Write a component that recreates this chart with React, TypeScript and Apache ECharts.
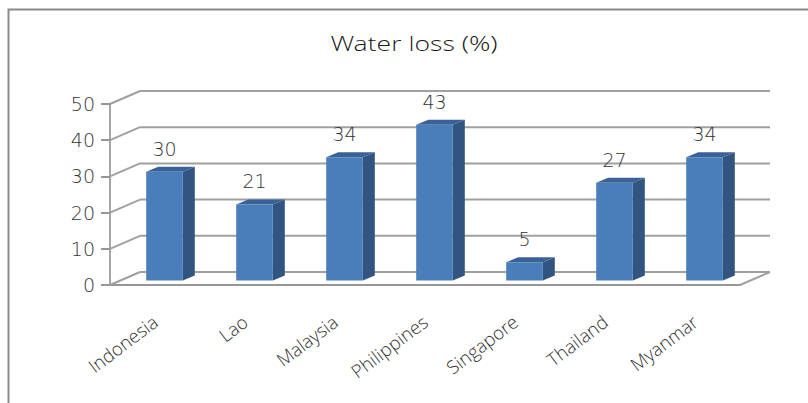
import React, { useEffect, useRef } from "react";
import * as echarts from "echarts";

const categories = ["Indonesia", "Lao", "Malaysia", "Philippines", "Singapore", "Thailand", "Myanmar"];
const waterLoss = [30, 21, 34, 43, 5, 27, 34];
const yTicks = [0, 10, 20, 30, 40, 50];
const titleText = "Water loss (%)";

const FONT = "'Open Sans Light', 'Open Sans', 'Noto Sans', sans-serif";
const DIGITS = "'DejaVu Sans Light', 'DejaVu Sans', sans-serif";
const WALL = { dx: 30, dy: -13 };
const FRONT = { dx: 9.5, dy: -4.6 };
const DEPTH = { dx: 12, dy: -5 };
const BAR_W = 36.6;
const GRID = "#a0a0a0";

export default function App() {
  const ref = useRef<HTMLDivElement>(null);
  useEffect(() => {
    const chart = echarts.init(ref.current!, undefined, { renderer: "svg" });
    chart.setOption({
      animation: false,
      backgroundColor: "#fff",
      grid: { left: 110, right: 68, top: 104, bottom: 118 },
      xAxis: {
        type: "category",
        data: categories,
        axisLine: { lineStyle: { color: "#969696", width: 2 } },
        axisTick: { show: false },
        axisLabel: {
          interval: 0,
          rotate: 37,
          margin: 34,
          fontFamily: FONT,
          fontWeight: 300,
          fontSize: 18.5,
          color: "#333333",
        },
      },
      yAxis: {
        type: "value",
        min: 0,
        max: 50,
        interval: 10,
        axisLine: { show: true, lineStyle: { color: "#a6a6a6", width: 2 } },
        axisTick: { show: true, length: 9, lineStyle: { color: "#969696", width: 2 } },
        splitLine: { show: false },
        axisLabel: { margin: 15, fontFamily: DIGITS, fontSize: 19, color: "#333333" },
      },
      graphic: [
        { type: "rect", shape: { x: 8.5, y: 9.5, width: 830, height: 420 }, style: { fill: "none", stroke: "#8a8a8a", lineWidth: 2 }, silent: true, z: 0 },
        {
          type: "text",
          x: 414,
          y: 43,
          scaleX: 1.33,
          silent: true,
          style: {
            text: titleText,
            align: "center",
            verticalAlign: "middle",
            fontFamily: FONT,
            fontWeight: 300,
            fontSize: 20,
            fill: "#1a1a1a",
          },
        },
      ],
      series: [
        {
          type: "custom",
          coordinateSystem: "cartesian2d",
          data: yTicks.map((t) => [0, t]),
          encode: { x: 0, y: 1 },
          silent: true,
          z: 1,
          renderItem: (params: any, api: any) => {
            const v = api.value(1);
            const [, y] = api.coord([0, v]);
            const w = params.coordSys.width;
            const x = params.coordSys.x;
            const style = { stroke: GRID, lineWidth: 2, fill: "none" };
            return {
              type: "group",
              children: [
                { type: "line", shape: { x1: x, y1: y, x2: x + WALL.dx, y2: y + WALL.dy }, style },
                v === 0
                  ? { type: "line", shape: { x1: x + w, y1: y, x2: x + w + WALL.dx, y2: y + WALL.dy }, style }
                  : { type: "group", children: [] },
                { type: "line", shape: { x1: x + WALL.dx, y1: y + WALL.dy, x2: x + w + WALL.dx, y2: y + WALL.dy }, style },
              ],
            };
          },
        },
        {
          type: "custom",
          coordinateSystem: "cartesian2d",
          data: waterLoss.map((v, i) => [i, v]),
          encode: { x: 0, y: 1 },
          silent: true,
          z: 3,
          renderItem: (_params: any, api: any) => {
            const [cx, top] = api.coord([api.value(0), api.value(1)]);
            const [, base] = api.coord([api.value(0), 0]);
            const l = cx + FRONT.dx - BAR_W / 2;
            const r = l + BAR_W;
            const t = top + FRONT.dy;
            const b = base + FRONT.dy;
            return {
              type: "group",
              children: [
                {
                  type: "polygon",
                  shape: { points: [[r, t], [r + DEPTH.dx, t + DEPTH.dy], [r + DEPTH.dx, b + DEPTH.dy], [r, b]] },
                  style: { fill: "#325480" },
                },
                {
                  type: "polygon",
                  shape: { points: [[l, t], [l + DEPTH.dx, t + DEPTH.dy], [r + DEPTH.dx, t + DEPTH.dy], [r, t]] },
                  style: { fill: "#3a6299" },
                },
                { type: "rect", shape: { x: l, y: t, width: BAR_W, height: b - t }, style: { fill: "#4a7ebb" } },
                {
                  type: "text",
                  style: {
                    x: (l + r) / 2,
                    y: t - 23,
                    text: String(api.value(1)),
                    align: "center",
                    verticalAlign: "middle",
                    fontFamily: DIGITS,
                    fontSize: 19,
                    fill: "#333333",
                  },
                },
              ],
            };
          },
        },
      ],
    });
    return () => chart.dispose();
  }, []);
  return <div ref={ref} style={{ position: "fixed", left: 0, top: 0, width: 808, height: 403 }} />;
}
